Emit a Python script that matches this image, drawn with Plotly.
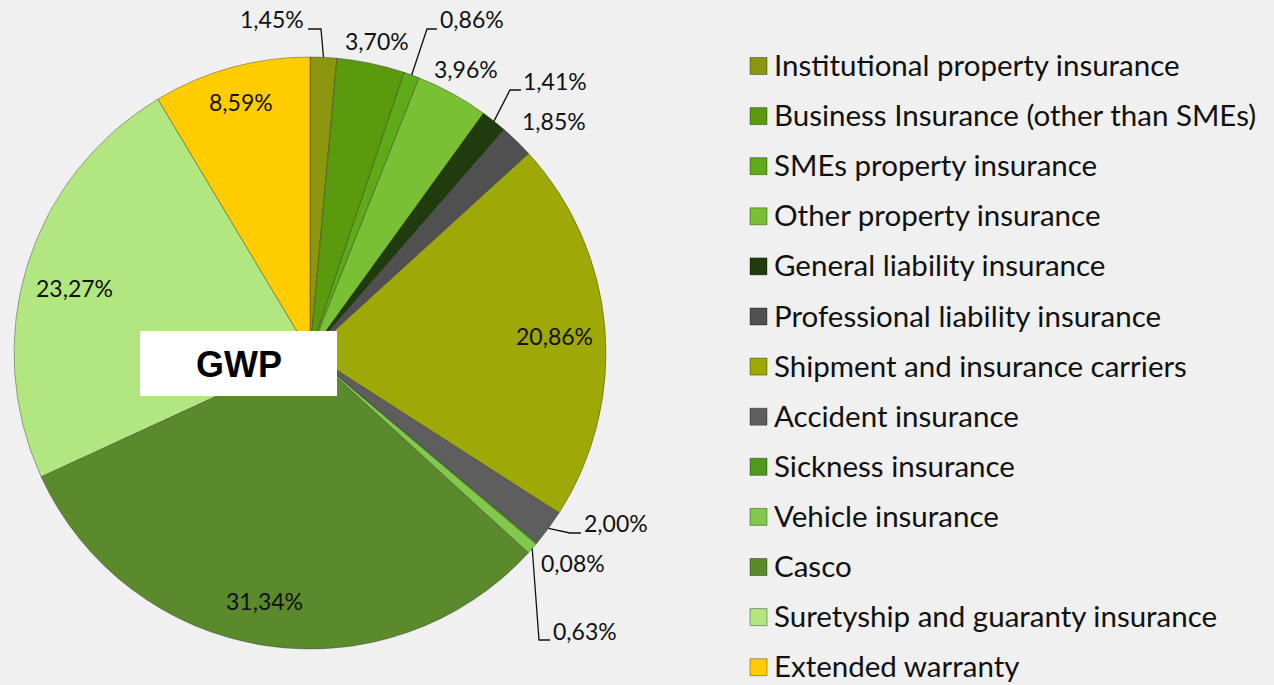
import math
import plotly.graph_objects as go

# Gross written premium split by insurance class (share of total, %)
classes = [
    "Institutional property insurance",
    "Business Insurance (other than SMEs)",
    "SMEs property insurance",
    "Other property insurance",
    "General liability insurance",
    "Professional liability insurance",
    "Shipment and insurance carriers",
    "Accident insurance",
    "Sickness insurance",
    "Vehicle insurance",
    "Casco",
    "Suretyship and guaranty insurance",
    "Extended warranty",
]
shares = [1.45, 3.70, 0.86, 3.96, 1.41, 1.85, 20.86, 2.00, 0.08, 0.63, 31.34, 23.27, 8.59]
colors = [
    "#8C960F", "#5A9A0C", "#5FAA18", "#7AC034", "#203B0E", "#505050", "#9EA806",
    "#5E5E5E", "#4F9A1C", "#82C84B", "#5B8A2D", "#B2E680", "#FFCC00",
]
center_title = "GWP"

# ---- layout geometry (pixels) ----
W, H = 1274, 685
CX, CY, R = 310, 353, 296
BG = "#F0F0F0"
LABEL_FONT = dict(family="Lato, 'Open Sans', sans-serif", size=23, color="#111111")
LEGEND_FONT = dict(family="Lato, 'Open Sans', sans-serif", size=29.5, color="#111111")


def fmt(v):
    return f"{v:.2f}".replace(".", ",") + "%"


def px(x, y):
    return x / W, 1 - y / H


# where each percentage label sits (text centre, px) and the bends of its leader line
label_pos = {
    0: (272, 19), 1: (377, 41), 2: (472, 19), 3: (466, 69), 4: (555, 81),
    5: (554, 121), 6: (554, 336), 7: (616, 523), 8: (573, 563), 9: (585, 631),
    10: (264, 601), 11: (74, 288), 12: (241, 102),
}
leader_bends = {
    0: [(321, 29), (308, 29)],
    2: [(427, 29), (437, 29)],
    4: [(510, 90), (521, 90)],
    7: [(570, 533), (581, 533)],
    9: [(539, 640), (550, 640)],
}

fig = go.Figure()
x0, y0 = px(CX - R, CY + R)
x1, y1 = px(CX + R, CY - R)
fig.add_trace(go.Pie(
    labels=classes,
    values=shares,
    sort=False,
    direction="clockwise",
    rotation=0,
    marker=dict(colors=colors, line=dict(color="rgba(30,30,30,0.35)", width=1)),
    textinfo="none",
    hoverinfo="label+percent",
    showlegend=False,
    domain=dict(x=[x0, x1], y=[y0, y1]),
))

annotations = []
shapes = []
total = sum(shares)
cum = 0.0
for i, v in enumerate(shares):
    mid = (cum + v / 2) / total
    cum += v
    ang = 2 * math.pi * mid
    rim = (CX + R * math.sin(ang), CY - R * math.cos(ang))
    lx, ly = label_pos[i]
    ax, ay = px(lx, ly)
    annotations.append(dict(
        x=ax, y=ay, xref="paper", yref="paper", text=fmt(v), showarrow=False,
        xanchor="center", yanchor="middle", font=LABEL_FONT,
    ))
    if i in leader_bends:
        pts = [rim] + leader_bends[i]
        path = "M " + " L ".join(f"{px(a, b)[0]:.5f},{px(a, b)[1]:.5f}" for a, b in pts)
        shapes.append(dict(type="path", path=path, xref="paper", yref="paper",
                           line=dict(color="#111111", width=1.3)))

# centre caption box
bx0, by0 = px(140, 396)
bx1, by1 = px(337, 331)
shapes.append(dict(type="rect", xref="paper", yref="paper", x0=bx0, y0=by0, x1=bx1, y1=by1,
                   fillcolor="white", line=dict(width=0), layer="above"))
gx, gy = px(238.5, 364)
annotations.append(dict(x=gx, y=gy, xref="paper", yref="paper", text=f"<b>{center_title}</b>",
                        showarrow=False, xanchor="center", yanchor="middle",
                        font=dict(family="Arial, 'Liberation Sans', sans-serif", size=36, color="black")))

# legend column
for i, (name, col) in enumerate(zip(classes, colors)):
    yc = 66 + 50.1 * i
    sx0, sy0 = px(750, yc + 8.5)
    sx1, sy1 = px(767, yc - 8.5)
    shapes.append(dict(type="rect", xref="paper", yref="paper", x0=sx0, y0=sy0, x1=sx1, y1=sy1,
                       fillcolor=col, line=dict(color="rgba(0,0,0,0.35)", width=1)))
    tx, ty = px(772, yc - 1.5)
    annotations.append(dict(x=tx, y=ty, xref="paper", yref="paper", text=name, showarrow=False,
                            xanchor="left", yanchor="middle", font=LEGEND_FONT))

fig.update_layout(
    width=W, height=H,
    margin=dict(l=0, r=0, t=0, b=0),
    paper_bgcolor=BG, plot_bgcolor=BG,
    annotations=annotations, shapes=shapes,
    showlegend=False,
)

fig.write_html("out.html")
